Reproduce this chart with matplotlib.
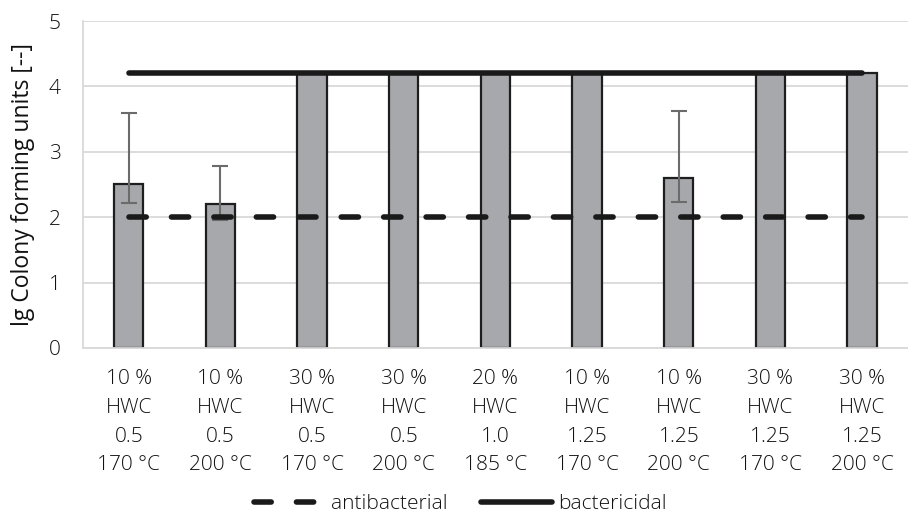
import matplotlib
matplotlib.use("Agg")
import matplotlib.pyplot as plt
import numpy as np

plt.rcParams['font.family'] = ['Open Sans', 'DejaVu Sans']
plt.rcParams['font.weight'] = 'light'

categories = ["10 %\nHWC\n0.5\n170 °C", "10 %\nHWC\n0.5\n200 °C", "30 %\nHWC\n0.5\n170 °C",
              "30 %\nHWC\n0.5\n200 °C", "20 %\nHWC\n1.0\n185 °C", "10 %\nHWC\n1.25\n170 °C",
              "10 %\nHWC\n1.25\n200 °C", "30 %\nHWC\n1.25\n170 °C", "30 %\nHWC\n1.25\n200 °C"]
values = [2.5, 2.2, 4.2, 4.2, 4.2, 4.2, 2.6, 4.2, 4.2]
err_low = [0.29, 0.25, 0, 0, 0, 0, 0.37, 0, 0]
err_high = [1.09, 0.59, 0, 0, 0, 0, 1.02, 0, 0]
antibacterial = [2.0] * 9
bactericidal = [4.2] * 9
yticks = [0, 1, 2, 3, 4, 5]

TXT = '#111111'
fig = plt.figure(figsize=(9.08, 5.15), dpi=100)
ax = fig.add_axes([0.0914, 0.3243, 0.9086, 0.6349])

x = np.arange(len(categories))
has_err = [i for i in range(len(values)) if err_high[i] > 0]
ax.bar(x, values, width=0.32, color='#a7a8ab', edgecolor='#1e1e1e', linewidth=1.6, zorder=2)
ax.errorbar([x[i] for i in has_err], [values[i] for i in has_err],
            yerr=[[err_low[i] for i in has_err], [err_high[i] for i in has_err]],
            fmt='none', ecolor='#6b6b6b', elinewidth=1.5, capsize=6, capthick=1.5, zorder=3)
l1, = ax.plot(x, antibacterial, color='#1a1a1a', linewidth=4.0, linestyle=(0, (3.1, 4.54)),
              dash_capstyle='round', solid_capstyle='round', zorder=4, label='antibacterial')
l2, = ax.plot(x, bactericidal, color='#1a1a1a', linewidth=4.0, solid_capstyle='round',
              zorder=4, label='bactericidal')

ax.set_xlim(-0.5, len(categories) - 0.5)
ax.set_ylim(0, 5)
ax.set_yticks(yticks)
ax.set_yticklabels([str(t) for t in yticks], fontsize=15, color=TXT)
ax.set_xticks(x)
ax.set_xticklabels(categories, fontsize=15, color=TXT, linespacing=1.59)
ax.tick_params(axis='both', length=0)
ax.tick_params(axis='x', pad=15)
ax.tick_params(axis='y', pad=16)
ax.grid(axis='y', color='#d9d9d9', linewidth=1.3, zorder=0)
ax.set_axisbelow(True)
for s in ['top', 'right']:
    ax.spines[s].set_visible(False)
for s in ['left', 'bottom']:
    ax.spines[s].set_color('#d9d9d9')
    ax.spines[s].set_linewidth(1.3)
ax.set_ylabel('lg Colony forming units [--]', fontsize=16.5, color=TXT, labelpad=10)

fig.legend(handles=[l1, l2], loc='lower center', bbox_to_anchor=(0.507, -0.035), ncol=2,
           frameon=False, fontsize=15, handlelength=3.4, columnspacing=1.6, handletextpad=0.3,
           labelcolor=TXT)

fig.savefig('out.png', dpi=100)
